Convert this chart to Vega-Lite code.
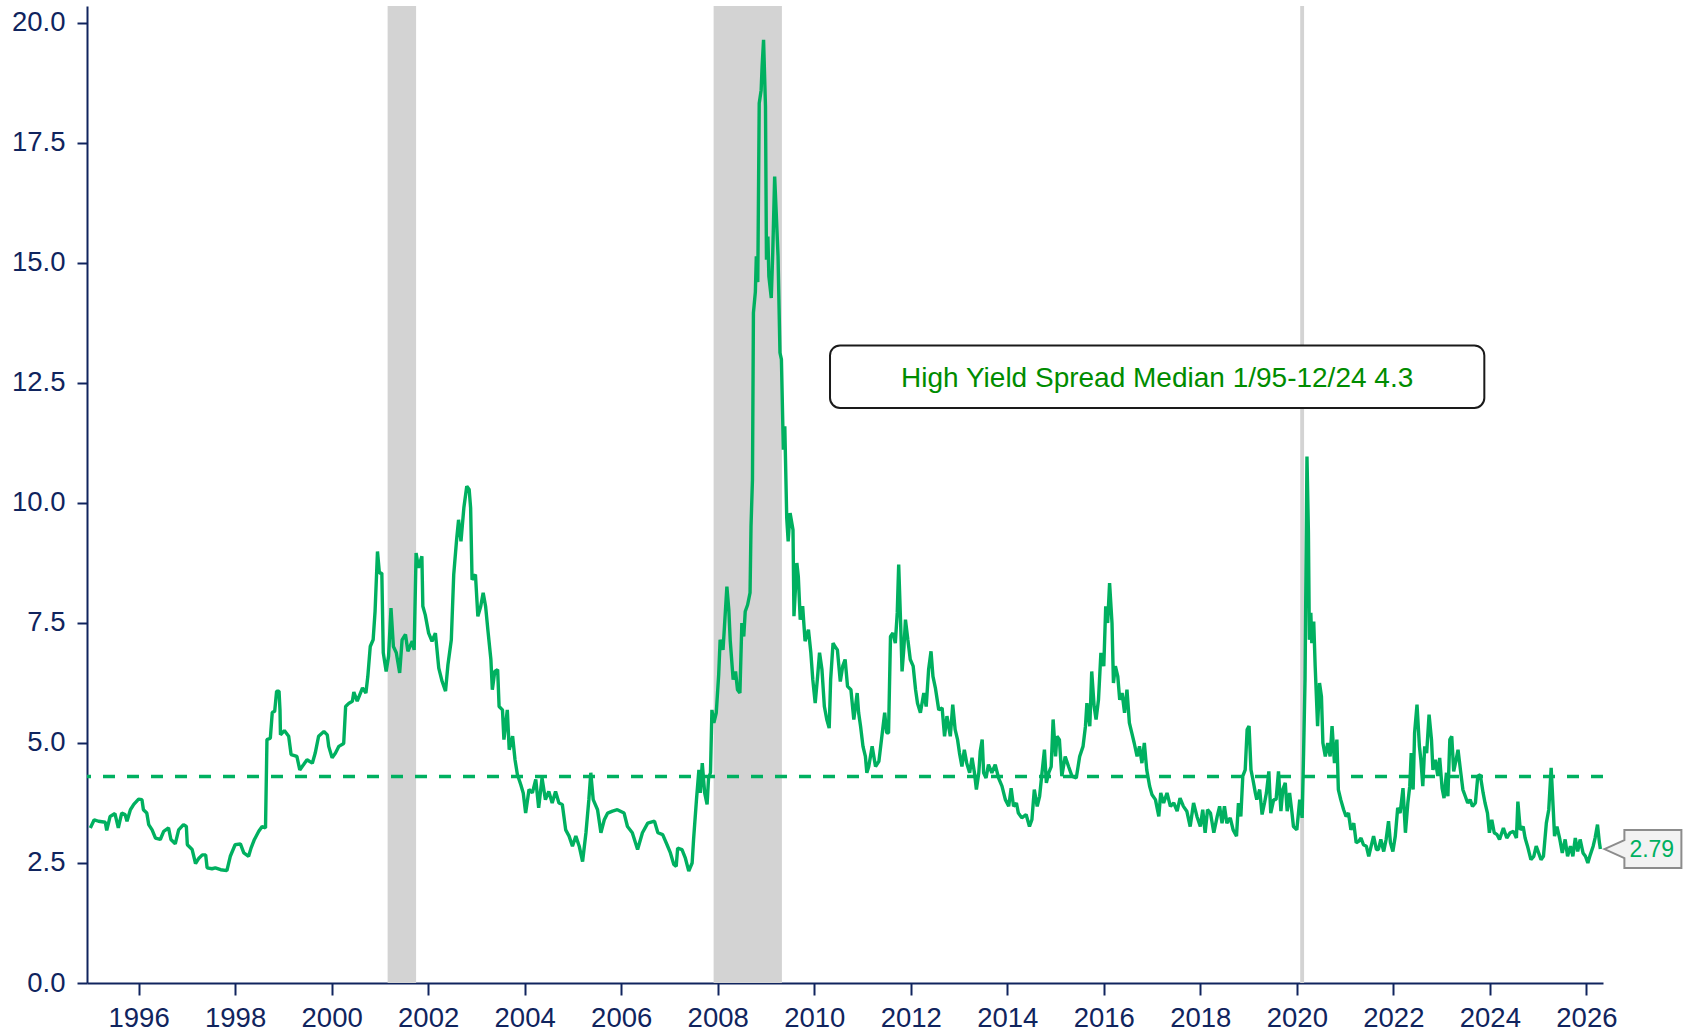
{
  "$schema": "https://vega.github.io/schema/vega-lite/v6.json",
  "width": 1516,
  "height": 977,
  "autosize": {"type": "none"},
  "padding": {"left": 87, "top": 6, "right": 88, "bottom": 47},
  "background": "white",
  "config": {"view": {"stroke": null}, "font": "Liberation Sans"},
  "datasets": {
    "rec": [
      {"start": 2001.16, "end": 2001.75},
      {"start": 2007.915, "end": 2009.33},
      {"start": 2020.07, "end": 2020.15}
    ],
    "median": [
      {"label": "High Yield Spread Median 1/95-12/24 4.3", "median": 4.3}
    ],
    "hy": [
      {"year": 1995.00, "spread": 3.23}, {"year": 1995.08, "spread": 3.40}, {"year": 1995.17, "spread": 3.37},
      {"year": 1995.31, "spread": 3.35}, {"year": 1995.34, "spread": 3.18}, {"year": 1995.41, "spread": 3.47},
      {"year": 1995.51, "spread": 3.53}, {"year": 1995.58, "spread": 3.23}, {"year": 1995.65, "spread": 3.54},
      {"year": 1995.72, "spread": 3.51}, {"year": 1995.76, "spread": 3.37}, {"year": 1995.83, "spread": 3.61},
      {"year": 1995.90, "spread": 3.72}, {"year": 1996.00, "spread": 3.83}, {"year": 1996.07, "spread": 3.82},
      {"year": 1996.10, "spread": 3.61}, {"year": 1996.17, "spread": 3.54}, {"year": 1996.21, "spread": 3.30},
      {"year": 1996.28, "spread": 3.19}, {"year": 1996.35, "spread": 3.02}, {"year": 1996.45, "spread": 2.99},
      {"year": 1996.52, "spread": 3.16}, {"year": 1996.62, "spread": 3.23}, {"year": 1996.67, "spread": 2.99},
      {"year": 1996.76, "spread": 2.90}, {"year": 1996.83, "spread": 3.19}, {"year": 1996.93, "spread": 3.30},
      {"year": 1996.99, "spread": 3.26}, {"year": 1997.01, "spread": 2.88}, {"year": 1997.11, "spread": 2.78},
      {"year": 1997.18, "spread": 2.49}, {"year": 1997.25, "spread": 2.60}, {"year": 1997.32, "spread": 2.67},
      {"year": 1997.39, "spread": 2.67}, {"year": 1997.42, "spread": 2.40}, {"year": 1997.52, "spread": 2.38},
      {"year": 1997.59, "spread": 2.40}, {"year": 1997.70, "spread": 2.36}, {"year": 1997.83, "spread": 2.34},
      {"year": 1997.90, "spread": 2.64}, {"year": 1998.00, "spread": 2.88}, {"year": 1998.11, "spread": 2.90},
      {"year": 1998.18, "spread": 2.71}, {"year": 1998.28, "spread": 2.64}, {"year": 1998.33, "spread": 2.81},
      {"year": 1998.40, "spread": 2.99}, {"year": 1998.49, "spread": 3.16}, {"year": 1998.56, "spread": 3.26},
      {"year": 1998.63, "spread": 3.23}, {"year": 1998.66, "spread": 5.07}, {"year": 1998.73, "spread": 5.10},
      {"year": 1998.77, "spread": 5.64}, {"year": 1998.82, "spread": 5.66}, {"year": 1998.86, "spread": 6.08},
      {"year": 1998.91, "spread": 6.08}, {"year": 1998.93, "spread": 5.69}, {"year": 1998.94, "spread": 5.17},
      {"year": 1999.02, "spread": 5.26}, {"year": 1999.11, "spread": 5.14}, {"year": 1999.16, "spread": 4.76},
      {"year": 1999.28, "spread": 4.72}, {"year": 1999.34, "spread": 4.44}, {"year": 1999.42, "spread": 4.55},
      {"year": 1999.49, "spread": 4.65}, {"year": 1999.60, "spread": 4.58}, {"year": 1999.66, "spread": 4.79},
      {"year": 1999.73, "spread": 5.14}, {"year": 1999.84, "spread": 5.24}, {"year": 1999.91, "spread": 5.17},
      {"year": 1999.94, "spread": 4.93}, {"year": 2000.01, "spread": 4.69}, {"year": 2000.08, "spread": 4.79},
      {"year": 2000.15, "spread": 4.93}, {"year": 2000.25, "spread": 4.99}, {"year": 2000.29, "spread": 5.76},
      {"year": 2000.36, "spread": 5.83}, {"year": 2000.43, "spread": 5.87}, {"year": 2000.46, "spread": 6.06},
      {"year": 2000.53, "spread": 5.87}, {"year": 2000.64, "spread": 6.15}, {"year": 2000.71, "spread": 6.04},
      {"year": 2000.75, "spread": 6.39}, {"year": 2000.80, "spread": 7.01}, {"year": 2000.86, "spread": 7.15},
      {"year": 2000.90, "spread": 7.74}, {"year": 2000.95, "spread": 8.99}, {"year": 2000.99, "spread": 8.54},
      {"year": 2001.04, "spread": 8.54}, {"year": 2001.07, "spread": 6.88}, {"year": 2001.13, "spread": 6.49},
      {"year": 2001.18, "spread": 6.81}, {"year": 2001.23, "spread": 7.81}, {"year": 2001.28, "spread": 7.01},
      {"year": 2001.34, "spread": 6.88}, {"year": 2001.41, "spread": 6.46}, {"year": 2001.46, "spread": 7.15},
      {"year": 2001.53, "spread": 7.26}, {"year": 2001.58, "spread": 6.91}, {"year": 2001.67, "spread": 7.12},
      {"year": 2001.71, "spread": 6.94}, {"year": 2001.75, "spread": 8.96}, {"year": 2001.80, "spread": 8.65},
      {"year": 2001.87, "spread": 8.89}, {"year": 2001.89, "spread": 7.85}, {"year": 2001.94, "spread": 7.67},
      {"year": 2002.01, "spread": 7.29}, {"year": 2002.08, "spread": 7.12}, {"year": 2002.15, "spread": 7.29},
      {"year": 2002.22, "spread": 6.56}, {"year": 2002.29, "spread": 6.28}, {"year": 2002.36, "spread": 6.08},
      {"year": 2002.41, "spread": 6.63}, {"year": 2002.48, "spread": 7.15}, {"year": 2002.53, "spread": 8.51},
      {"year": 2002.59, "spread": 9.24}, {"year": 2002.63, "spread": 9.65}, {"year": 2002.68, "spread": 9.20},
      {"year": 2002.74, "spread": 9.90}, {"year": 2002.80, "spread": 10.35}, {"year": 2002.85, "spread": 10.28},
      {"year": 2002.88, "spread": 9.90}, {"year": 2002.91, "spread": 8.40}, {"year": 2002.98, "spread": 8.51},
      {"year": 2003.03, "spread": 7.64}, {"year": 2003.09, "spread": 7.85}, {"year": 2003.14, "spread": 8.13},
      {"year": 2003.19, "spread": 7.85}, {"year": 2003.24, "spread": 7.33}, {"year": 2003.30, "spread": 6.74},
      {"year": 2003.33, "spread": 6.11}, {"year": 2003.38, "spread": 6.49}, {"year": 2003.44, "spread": 6.53},
      {"year": 2003.47, "spread": 5.76}, {"year": 2003.54, "spread": 5.69}, {"year": 2003.57, "spread": 5.07},
      {"year": 2003.64, "spread": 5.69}, {"year": 2003.68, "spread": 4.86}, {"year": 2003.75, "spread": 5.14},
      {"year": 2003.80, "spread": 4.65}, {"year": 2003.85, "spread": 4.34}, {"year": 2003.92, "spread": 4.13},
      {"year": 2003.97, "spread": 3.96}, {"year": 2004.02, "spread": 3.54}, {"year": 2004.09, "spread": 4.03},
      {"year": 2004.16, "spread": 3.96}, {"year": 2004.23, "spread": 4.24}, {"year": 2004.29, "spread": 3.65},
      {"year": 2004.36, "spread": 4.27}, {"year": 2004.43, "spread": 3.82}, {"year": 2004.50, "spread": 3.99},
      {"year": 2004.57, "spread": 3.75}, {"year": 2004.64, "spread": 3.99}, {"year": 2004.71, "spread": 3.75},
      {"year": 2004.78, "spread": 3.72}, {"year": 2004.85, "spread": 3.19}, {"year": 2004.92, "spread": 3.06},
      {"year": 2004.99, "spread": 2.85}, {"year": 2005.06, "spread": 3.06}, {"year": 2005.13, "spread": 2.85},
      {"year": 2005.20, "spread": 2.53}, {"year": 2005.27, "spread": 3.13}, {"year": 2005.33, "spread": 3.82},
      {"year": 2005.37, "spread": 4.38}, {"year": 2005.42, "spread": 3.82}, {"year": 2005.51, "spread": 3.61},
      {"year": 2005.58, "spread": 3.13}, {"year": 2005.65, "spread": 3.40}, {"year": 2005.72, "spread": 3.54},
      {"year": 2005.82, "spread": 3.58}, {"year": 2005.92, "spread": 3.61}, {"year": 2006.06, "spread": 3.54},
      {"year": 2006.13, "spread": 3.26}, {"year": 2006.23, "spread": 3.13}, {"year": 2006.34, "spread": 2.78},
      {"year": 2006.44, "spread": 3.13}, {"year": 2006.55, "spread": 3.33}, {"year": 2006.69, "spread": 3.37},
      {"year": 2006.76, "spread": 3.13}, {"year": 2006.86, "spread": 3.09}, {"year": 2006.95, "spread": 2.88},
      {"year": 2007.02, "spread": 2.71}, {"year": 2007.09, "spread": 2.47}, {"year": 2007.14, "spread": 2.43},
      {"year": 2007.17, "spread": 2.81}, {"year": 2007.26, "spread": 2.78}, {"year": 2007.33, "spread": 2.60},
      {"year": 2007.40, "spread": 2.33}, {"year": 2007.47, "spread": 2.50}, {"year": 2007.50, "spread": 2.99},
      {"year": 2007.56, "spread": 3.82}, {"year": 2007.61, "spread": 4.44}, {"year": 2007.64, "spread": 3.96},
      {"year": 2007.68, "spread": 4.58}, {"year": 2007.73, "spread": 3.96}, {"year": 2007.78, "spread": 3.72},
      {"year": 2007.81, "spread": 4.27}, {"year": 2007.85, "spread": 4.38}, {"year": 2007.88, "spread": 5.69},
      {"year": 2007.92, "spread": 5.42}, {"year": 2007.97, "spread": 5.63}, {"year": 2008.02, "spread": 6.42},
      {"year": 2008.05, "spread": 7.15}, {"year": 2008.11, "spread": 6.94}, {"year": 2008.14, "spread": 7.43},
      {"year": 2008.19, "spread": 8.26}, {"year": 2008.23, "spread": 7.78}, {"year": 2008.26, "spread": 7.12},
      {"year": 2008.32, "spread": 6.32}, {"year": 2008.37, "spread": 6.49}, {"year": 2008.41, "spread": 6.11},
      {"year": 2008.46, "spread": 6.04}, {"year": 2008.50, "spread": 7.50}, {"year": 2008.54, "spread": 7.22},
      {"year": 2008.57, "spread": 7.74}, {"year": 2008.62, "spread": 7.88}, {"year": 2008.67, "spread": 8.13},
      {"year": 2008.69, "spread": 9.51}, {"year": 2008.72, "spread": 10.49}, {"year": 2008.74, "spread": 13.96},
      {"year": 2008.78, "spread": 14.40}, {"year": 2008.80, "spread": 15.14}, {"year": 2008.83, "spread": 14.60},
      {"year": 2008.86, "spread": 18.33}, {"year": 2008.90, "spread": 18.60}, {"year": 2008.92, "spread": 19.10},
      {"year": 2008.95, "spread": 19.65}, {"year": 2008.99, "spread": 18.26}, {"year": 2009.01, "spread": 15.07},
      {"year": 2009.04, "spread": 15.55}, {"year": 2009.06, "spread": 14.72}, {"year": 2009.11, "spread": 14.27},
      {"year": 2009.14, "spread": 15.20}, {"year": 2009.18, "spread": 16.80}, {"year": 2009.21, "spread": 16.10},
      {"year": 2009.25, "spread": 15.14}, {"year": 2009.29, "spread": 13.13}, {"year": 2009.32, "spread": 12.99},
      {"year": 2009.36, "spread": 11.11}, {"year": 2009.39, "spread": 11.60}, {"year": 2009.43, "spread": 9.69},
      {"year": 2009.46, "spread": 9.20}, {"year": 2009.50, "spread": 9.79}, {"year": 2009.56, "spread": 9.44},
      {"year": 2009.58, "spread": 7.64}, {"year": 2009.64, "spread": 8.75}, {"year": 2009.67, "spread": 8.47},
      {"year": 2009.71, "spread": 7.57}, {"year": 2009.76, "spread": 7.85}, {"year": 2009.81, "spread": 7.12},
      {"year": 2009.88, "spread": 7.36}, {"year": 2009.93, "spread": 6.88}, {"year": 2009.97, "spread": 6.32},
      {"year": 2010.02, "spread": 5.83}, {"year": 2010.07, "spread": 6.39}, {"year": 2010.11, "spread": 6.88},
      {"year": 2010.16, "spread": 6.53}, {"year": 2010.21, "spread": 5.76}, {"year": 2010.26, "spread": 5.49},
      {"year": 2010.31, "spread": 5.31}, {"year": 2010.34, "spread": 6.32}, {"year": 2010.39, "spread": 7.08},
      {"year": 2010.43, "spread": 7.01}, {"year": 2010.48, "spread": 6.94}, {"year": 2010.54, "spread": 6.28},
      {"year": 2010.59, "spread": 6.60}, {"year": 2010.64, "spread": 6.74}, {"year": 2010.69, "spread": 6.18},
      {"year": 2010.76, "spread": 6.11}, {"year": 2010.82, "spread": 5.49}, {"year": 2010.89, "spread": 6.04},
      {"year": 2010.92, "spread": 5.63}, {"year": 2010.96, "spread": 5.35}, {"year": 2011.01, "spread": 4.93},
      {"year": 2011.06, "spread": 4.72}, {"year": 2011.09, "spread": 4.38}, {"year": 2011.13, "spread": 4.51},
      {"year": 2011.20, "spread": 4.93}, {"year": 2011.27, "spread": 4.51}, {"year": 2011.34, "spread": 4.62},
      {"year": 2011.41, "spread": 5.21}, {"year": 2011.46, "spread": 5.63}, {"year": 2011.50, "spread": 5.21},
      {"year": 2011.54, "spread": 5.21}, {"year": 2011.58, "spread": 7.22}, {"year": 2011.63, "spread": 7.29},
      {"year": 2011.68, "spread": 7.08}, {"year": 2011.72, "spread": 7.71}, {"year": 2011.75, "spread": 8.72},
      {"year": 2011.79, "spread": 7.50}, {"year": 2011.82, "spread": 6.49}, {"year": 2011.86, "spread": 7.01},
      {"year": 2011.89, "spread": 7.57}, {"year": 2011.94, "spread": 7.15}, {"year": 2011.99, "spread": 6.74},
      {"year": 2012.05, "spread": 6.60}, {"year": 2012.10, "spread": 6.11}, {"year": 2012.14, "spread": 5.83},
      {"year": 2012.20, "spread": 5.63}, {"year": 2012.27, "spread": 6.04}, {"year": 2012.32, "spread": 5.76},
      {"year": 2012.37, "spread": 6.53}, {"year": 2012.42, "spread": 6.91}, {"year": 2012.46, "spread": 6.39},
      {"year": 2012.51, "spread": 6.15}, {"year": 2012.58, "spread": 5.69}, {"year": 2012.65, "spread": 5.73},
      {"year": 2012.70, "spread": 5.14}, {"year": 2012.75, "spread": 5.56}, {"year": 2012.82, "spread": 5.14},
      {"year": 2012.87, "spread": 5.80}, {"year": 2012.92, "spread": 5.28}, {"year": 2012.97, "spread": 5.07},
      {"year": 2013.01, "spread": 4.79}, {"year": 2013.06, "spread": 4.51}, {"year": 2013.11, "spread": 4.86},
      {"year": 2013.16, "spread": 4.58}, {"year": 2013.22, "spread": 4.38}, {"year": 2013.27, "spread": 4.69},
      {"year": 2013.32, "spread": 4.38}, {"year": 2013.36, "spread": 4.03}, {"year": 2013.41, "spread": 4.38},
      {"year": 2013.44, "spread": 4.83}, {"year": 2013.48, "spread": 5.07}, {"year": 2013.51, "spread": 4.38},
      {"year": 2013.56, "spread": 4.27}, {"year": 2013.61, "spread": 4.55}, {"year": 2013.68, "spread": 4.38},
      {"year": 2013.75, "spread": 4.55}, {"year": 2013.82, "spread": 4.27}, {"year": 2013.89, "spread": 4.10},
      {"year": 2013.96, "spread": 3.82}, {"year": 2014.03, "spread": 3.68}, {"year": 2014.08, "spread": 4.06},
      {"year": 2014.13, "spread": 3.68}, {"year": 2014.19, "spread": 3.75}, {"year": 2014.23, "spread": 3.54},
      {"year": 2014.30, "spread": 3.44}, {"year": 2014.39, "spread": 3.51}, {"year": 2014.46, "spread": 3.26},
      {"year": 2014.51, "spread": 3.40}, {"year": 2014.56, "spread": 4.03}, {"year": 2014.62, "spread": 3.68},
      {"year": 2014.67, "spread": 3.89}, {"year": 2014.72, "spread": 4.38}, {"year": 2014.77, "spread": 4.86},
      {"year": 2014.81, "spread": 4.17}, {"year": 2014.86, "spread": 4.38}, {"year": 2014.91, "spread": 4.51},
      {"year": 2014.95, "spread": 5.49}, {"year": 2015.00, "spread": 4.72}, {"year": 2015.03, "spread": 5.14},
      {"year": 2015.08, "spread": 5.07}, {"year": 2015.13, "spread": 4.31}, {"year": 2015.20, "spread": 4.72},
      {"year": 2015.27, "spread": 4.51}, {"year": 2015.34, "spread": 4.31}, {"year": 2015.43, "spread": 4.27},
      {"year": 2015.50, "spread": 4.72}, {"year": 2015.57, "spread": 4.93}, {"year": 2015.62, "spread": 5.35},
      {"year": 2015.65, "spread": 5.83}, {"year": 2015.71, "spread": 5.35}, {"year": 2015.75, "spread": 6.49},
      {"year": 2015.80, "spread": 5.76}, {"year": 2015.84, "spread": 5.49}, {"year": 2015.89, "spread": 5.90},
      {"year": 2015.94, "spread": 6.88}, {"year": 2016.00, "spread": 6.60}, {"year": 2016.04, "spread": 7.85},
      {"year": 2016.08, "spread": 7.50}, {"year": 2016.12, "spread": 8.33}, {"year": 2016.17, "spread": 7.50},
      {"year": 2016.20, "spread": 6.25}, {"year": 2016.24, "spread": 6.60}, {"year": 2016.29, "spread": 6.39},
      {"year": 2016.33, "spread": 5.90}, {"year": 2016.38, "spread": 6.04}, {"year": 2016.43, "spread": 5.63},
      {"year": 2016.48, "spread": 6.11}, {"year": 2016.53, "spread": 5.42}, {"year": 2016.58, "spread": 5.21},
      {"year": 2016.63, "spread": 5.00}, {"year": 2016.69, "spread": 4.72}, {"year": 2016.74, "spread": 4.93},
      {"year": 2016.79, "spread": 4.58}, {"year": 2016.84, "spread": 5.00}, {"year": 2016.89, "spread": 4.44},
      {"year": 2016.95, "spread": 4.10}, {"year": 2017.00, "spread": 3.92}, {"year": 2017.07, "spread": 3.82},
      {"year": 2017.14, "spread": 3.47}, {"year": 2017.18, "spread": 3.96}, {"year": 2017.24, "spread": 3.75},
      {"year": 2017.31, "spread": 3.96}, {"year": 2017.38, "spread": 3.68}, {"year": 2017.45, "spread": 3.75},
      {"year": 2017.52, "spread": 3.58}, {"year": 2017.58, "spread": 3.85}, {"year": 2017.65, "spread": 3.68},
      {"year": 2017.72, "spread": 3.58}, {"year": 2017.79, "spread": 3.26}, {"year": 2017.86, "spread": 3.75},
      {"year": 2017.93, "spread": 3.47}, {"year": 2018.00, "spread": 3.26}, {"year": 2018.05, "spread": 3.61},
      {"year": 2018.10, "spread": 3.13}, {"year": 2018.15, "spread": 3.61}, {"year": 2018.21, "spread": 3.54},
      {"year": 2018.28, "spread": 3.13}, {"year": 2018.35, "spread": 3.47}, {"year": 2018.40, "spread": 3.68},
      {"year": 2018.45, "spread": 3.33}, {"year": 2018.50, "spread": 3.68}, {"year": 2018.55, "spread": 3.33},
      {"year": 2018.62, "spread": 3.44}, {"year": 2018.68, "spread": 3.19}, {"year": 2018.75, "spread": 3.06},
      {"year": 2018.79, "spread": 3.75}, {"year": 2018.84, "spread": 3.47}, {"year": 2018.88, "spread": 4.31},
      {"year": 2018.93, "spread": 4.44}, {"year": 2018.97, "spread": 5.28}, {"year": 2019.01, "spread": 5.35},
      {"year": 2019.05, "spread": 4.44}, {"year": 2019.09, "spread": 4.24}, {"year": 2019.14, "spread": 3.96},
      {"year": 2019.17, "spread": 3.82}, {"year": 2019.23, "spread": 4.03}, {"year": 2019.28, "spread": 3.51},
      {"year": 2019.33, "spread": 3.75}, {"year": 2019.37, "spread": 3.96}, {"year": 2019.42, "spread": 4.41},
      {"year": 2019.46, "spread": 3.54}, {"year": 2019.52, "spread": 3.82}, {"year": 2019.57, "spread": 3.82},
      {"year": 2019.62, "spread": 4.41}, {"year": 2019.67, "spread": 3.58}, {"year": 2019.71, "spread": 4.03},
      {"year": 2019.76, "spread": 4.17}, {"year": 2019.80, "spread": 3.58}, {"year": 2019.85, "spread": 3.96},
      {"year": 2019.90, "spread": 3.54}, {"year": 2019.93, "spread": 3.26}, {"year": 2020.00, "spread": 3.19},
      {"year": 2020.06, "spread": 3.82}, {"year": 2020.11, "spread": 3.44}, {"year": 2020.14, "spread": 4.79},
      {"year": 2020.17, "spread": 6.32}, {"year": 2020.21, "spread": 10.97}, {"year": 2020.24, "spread": 9.38},
      {"year": 2020.26, "spread": 7.15}, {"year": 2020.29, "spread": 7.71}, {"year": 2020.31, "spread": 7.08},
      {"year": 2020.35, "spread": 7.53}, {"year": 2020.38, "spread": 6.60}, {"year": 2020.43, "spread": 5.35},
      {"year": 2020.47, "spread": 6.25}, {"year": 2020.51, "spread": 5.97}, {"year": 2020.54, "spread": 5.00},
      {"year": 2020.59, "spread": 4.72}, {"year": 2020.64, "spread": 5.00}, {"year": 2020.69, "spread": 4.72},
      {"year": 2020.73, "spread": 5.35}, {"year": 2020.78, "spread": 4.58}, {"year": 2020.83, "spread": 5.07},
      {"year": 2020.86, "spread": 4.03}, {"year": 2020.91, "spread": 3.82}, {"year": 2020.97, "spread": 3.61},
      {"year": 2021.02, "spread": 3.47}, {"year": 2021.07, "spread": 3.54}, {"year": 2021.12, "spread": 3.19},
      {"year": 2021.18, "spread": 3.33}, {"year": 2021.23, "spread": 2.92}, {"year": 2021.28, "spread": 2.95},
      {"year": 2021.33, "spread": 3.02}, {"year": 2021.38, "spread": 2.88}, {"year": 2021.44, "spread": 2.85},
      {"year": 2021.49, "spread": 2.64}, {"year": 2021.54, "spread": 2.85}, {"year": 2021.59, "spread": 3.06},
      {"year": 2021.65, "spread": 2.78}, {"year": 2021.69, "spread": 2.78}, {"year": 2021.74, "spread": 2.99},
      {"year": 2021.80, "spread": 2.74}, {"year": 2021.85, "spread": 2.99}, {"year": 2021.90, "spread": 3.37},
      {"year": 2021.94, "spread": 2.92}, {"year": 2021.99, "spread": 2.74}, {"year": 2022.04, "spread": 3.06},
      {"year": 2022.09, "spread": 3.65}, {"year": 2022.14, "spread": 3.54}, {"year": 2022.20, "spread": 4.06},
      {"year": 2022.25, "spread": 3.13}, {"year": 2022.30, "spread": 3.75}, {"year": 2022.34, "spread": 4.10},
      {"year": 2022.37, "spread": 4.79}, {"year": 2022.41, "spread": 4.03}, {"year": 2022.44, "spread": 5.21},
      {"year": 2022.49, "spread": 5.80}, {"year": 2022.54, "spread": 4.93}, {"year": 2022.57, "spread": 4.65},
      {"year": 2022.61, "spread": 4.10}, {"year": 2022.65, "spread": 4.93}, {"year": 2022.69, "spread": 4.79},
      {"year": 2022.74, "spread": 5.59}, {"year": 2022.79, "spread": 5.07}, {"year": 2022.82, "spread": 4.44},
      {"year": 2022.87, "spread": 4.65}, {"year": 2022.92, "spread": 4.31}, {"year": 2022.96, "spread": 4.69},
      {"year": 2023.01, "spread": 4.06}, {"year": 2023.05, "spread": 3.85}, {"year": 2023.10, "spread": 4.38},
      {"year": 2023.13, "spread": 3.89}, {"year": 2023.17, "spread": 5.07}, {"year": 2023.21, "spread": 5.14},
      {"year": 2023.25, "spread": 4.41}, {"year": 2023.30, "spread": 4.65}, {"year": 2023.34, "spread": 4.86},
      {"year": 2023.39, "spread": 4.44}, {"year": 2023.44, "spread": 4.03}, {"year": 2023.49, "spread": 3.89},
      {"year": 2023.54, "spread": 3.75}, {"year": 2023.59, "spread": 3.82}, {"year": 2023.64, "spread": 3.68},
      {"year": 2023.70, "spread": 3.75}, {"year": 2023.75, "spread": 4.31}, {"year": 2023.80, "spread": 4.34},
      {"year": 2023.86, "spread": 3.96}, {"year": 2023.90, "spread": 3.75}, {"year": 2023.95, "spread": 3.54},
      {"year": 2023.99, "spread": 3.13}, {"year": 2024.04, "spread": 3.40}, {"year": 2024.09, "spread": 3.13},
      {"year": 2024.15, "spread": 3.09}, {"year": 2024.20, "spread": 2.99}, {"year": 2024.28, "spread": 3.23},
      {"year": 2024.35, "spread": 3.02}, {"year": 2024.42, "spread": 3.13}, {"year": 2024.49, "spread": 3.16},
      {"year": 2024.55, "spread": 3.02}, {"year": 2024.58, "spread": 3.78}, {"year": 2024.63, "spread": 3.19},
      {"year": 2024.69, "spread": 3.26}, {"year": 2024.73, "spread": 3.02}, {"year": 2024.78, "spread": 2.85},
      {"year": 2024.85, "spread": 2.57}, {"year": 2024.91, "spread": 2.64}, {"year": 2024.96, "spread": 2.85},
      {"year": 2025.01, "spread": 2.71}, {"year": 2025.06, "spread": 2.57}, {"year": 2025.11, "spread": 2.64},
      {"year": 2025.17, "spread": 3.33}, {"year": 2025.22, "spread": 3.61}, {"year": 2025.27, "spread": 4.48},
      {"year": 2025.31, "spread": 3.68}, {"year": 2025.34, "spread": 3.06}, {"year": 2025.39, "spread": 3.26},
      {"year": 2025.45, "spread": 2.99}, {"year": 2025.50, "spread": 2.71}, {"year": 2025.56, "spread": 2.99},
      {"year": 2025.61, "spread": 2.64}, {"year": 2025.67, "spread": 2.85}, {"year": 2025.72, "spread": 2.64},
      {"year": 2025.77, "spread": 3.02}, {"year": 2025.82, "spread": 2.74}, {"year": 2025.87, "spread": 2.99},
      {"year": 2025.93, "spread": 2.71}, {"year": 2025.98, "spread": 2.64}, {"year": 2026.03, "spread": 2.50},
      {"year": 2026.08, "spread": 2.67}, {"year": 2026.14, "spread": 2.85}, {"year": 2026.18, "spread": 3.02},
      {"year": 2026.23, "spread": 3.30}, {"year": 2026.27, "spread": 2.92}, {"year": 2026.29, "spread": 2.79}
    ]
  },
  "layer": [
    {
      "data": {"name": "rec"},
      "mark": {"type": "rect", "color": "#D3D3D3"},
      "encoding": {
        "x": {
          "field": "start", "type": "quantitative", "title": null,
          "scale": {"domain": [1994.931, 2026.344], "nice": false, "zero": false},
          "axis": {
            "values": [1996, 1998, 2000, 2002, 2004, 2006, 2008, 2010, 2012, 2014, 2016, 2018, 2020, 2022, 2024, 2026],
            "format": "d", "title": null, "grid": false,
            "domainColor": "#10245E", "domainWidth": 2,
            "tickColor": "#10245E", "tickWidth": 2, "tickSize": 12,
            "labelColor": "#10245E", "labelFont": "Liberation Sans", "labelFontSize": 27.5,
            "labelPadding": 9, "labelFlush": false, "labelOverlap": false
          }
        },
        "x2": {"field": "end"}
      }
    },
    {
      "data": {"name": "median"},
      "mark": {"type": "rule", "color": "#00B060", "strokeWidth": 3.5, "strokeDash": [12, 12]},
      "encoding": {
        "y": {
          "field": "median", "type": "quantitative", "title": null,
          "scale": {"domain": [0, 20.354], "nice": false, "zero": false},
          "axis": {
            "values": [0, 2.5, 5, 7.5, 10, 12.5, 15, 17.5, 20],
            "format": ".1f", "title": null, "grid": false,
            "domainColor": "#10245E", "domainWidth": 2,
            "tickColor": "#10245E", "tickWidth": 2, "tickSize": 10,
            "labelColor": "#10245E", "labelFont": "Liberation Sans", "labelFontSize": 27.5,
            "labelPadding": 12, "labelFlush": false, "labelOverlap": false
          }
        }
      }
    },
    {
      "data": {"name": "hy"},
      "mark": {"type": "line", "color": "#00B060", "strokeWidth": 3.4, "strokeJoin": "bevel"},
      "encoding": {
        "x": {"field": "year", "type": "quantitative", "title": null},
        "y": {"field": "spread", "type": "quantitative", "title": null}
      }
    },
    {
      "data": {"name": "median"},
      "mark": {"type": "rect", "fill": "white", "stroke": "#1A1A1A", "strokeWidth": 2, "cornerRadius": 10},
      "encoding": {
        "x": {"datum": 2010.327, "type": "quantitative"},
        "x2": {"datum": 2023.885},
        "y": {"datum": 11.979, "type": "quantitative"},
        "y2": {"datum": 13.283}
      }
    },
    {
      "data": {"name": "median"},
      "mark": {"type": "text", "color": "#008C00", "font": "Liberation Sans", "fontSize": 28, "align": "center", "baseline": "middle"},
      "encoding": {
        "x": {"datum": 2017.106, "type": "quantitative"},
        "y": {"datum": 12.59, "type": "quantitative"},
        "text": {"field": "label"}
      }
    },
    {
      "data": {"name": "hy"},
      "transform": [{"filter": "datum.year >= 2026.29"}],
      "mark": {
        "type": "point",
        "shape": "M4,0L24,-9L24,-19L81,-19L81,19L24,19L24,9Z",
        "size": 4, "filled": true, "fill": "#F2F2F2", "stroke": "#8C8C8C", "strokeWidth": 2, "opacity": 1
      },
      "encoding": {
        "x": {"field": "year", "type": "quantitative"},
        "y": {"field": "spread", "type": "quantitative"}
      }
    },
    {
      "data": {"name": "hy"},
      "transform": [{"filter": "datum.year >= 2026.29"}],
      "mark": {"type": "text", "color": "#00B060", "font": "Liberation Sans", "fontSize": 23, "align": "left", "baseline": "middle", "dx": 29, "dy": 1},
      "encoding": {
        "x": {"field": "year", "type": "quantitative"},
        "y": {"field": "spread", "type": "quantitative"},
        "text": {"field": "spread", "type": "quantitative", "format": ".2f"}
      }
    }
  ]
}
